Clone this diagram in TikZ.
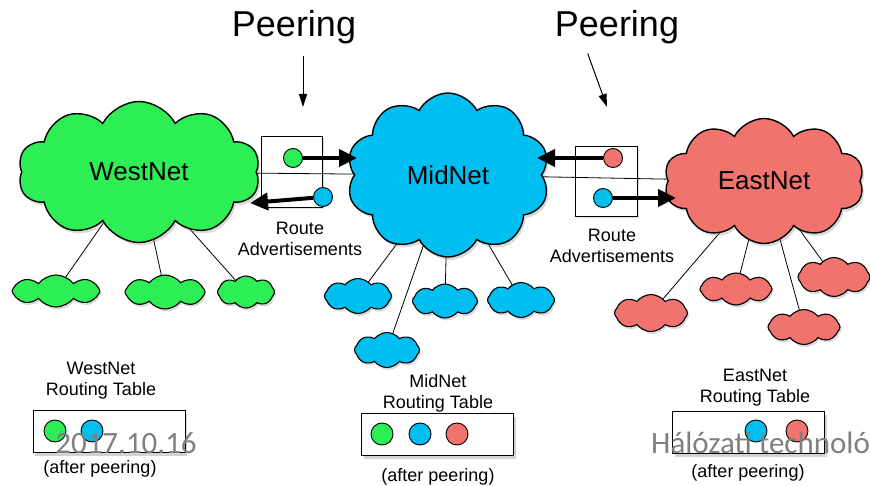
\documentclass[tikz,border=0pt]{standalone}
\usepackage{fontspec}
\setmainfont{Liberation Sans}
\newfontfamily\slidefont{Carlito}
\usepackage{tikz}
\usetikzlibrary{shapes.symbols, shadows, positioning, calc, arrows.meta, backgrounds}
\definecolor{netgreen}{RGB}{46,238,86}
\definecolor{netblue}{RGB}{0,190,240}
\definecolor{netred}{RGB}{240,115,110}

\begin{document}
\begin{tikzpicture}[x=1pt, y=-1pt,
	net/.style={cloud, cloud puffs=10, cloud puff arc=125, cloud ignores aspect, draw, line width=1.4pt, inner sep=0pt,
		drop shadow={opacity=0.3, shadow xshift=2pt, shadow yshift=-3pt}, font=\fontsize{26}{30}\selectfont},
	subnet/.style={cloud, cloud puffs=8, cloud puff arc=105, cloud ignores aspect, draw, line width=1.1pt, inner sep=0pt,
		drop shadow={opacity=0.3, shadow xshift=1.5pt, shadow yshift=-2.5pt}},
	dot/.style={circle, draw, line width=0.9pt, minimum size=19pt, inner sep=0pt},
	peerbox/.style={draw, line width=0.9pt, fill=white, drop shadow={opacity=0.25, shadow xshift=1.5pt, shadow yshift=-2pt}},
	tablebox/.style={draw, line width=1pt, fill=white, minimum width=152pt, minimum height=42pt,
		drop shadow={opacity=0.35, shadow xshift=2pt, shadow yshift=-4pt}},
	adv/.style={line width=4pt, -{Triangle[length=18pt, width=17pt]}},
	pointer/.style={line width=1pt, -{Triangle[length=13pt, width=8pt]}},
	small/.style={font=\fontsize{18}{21}\selectfont, align=center, inner sep=1pt},
	big/.style={font=\fontsize{36}{40}\selectfont, inner sep=2pt},
	slide/.style={font=\slidefont\fontsize{31}{34}\selectfont, text=black!50, inner sep=0pt}]
			\useasboundingbox (0,0) rectangle (870,486);
			
			\node [net, fill=netgreen, minimum width=242pt, minimum height=141pt] (west) at (139,172) {WestNet};
			\node [net, fill=netblue, minimum width=203pt, minimum height=164pt] (mid) at (448,175) {MidNet};
			\node [net, fill=netred, minimum width=200pt, minimum height=125pt] (east) at (764,181) {EastNet};
			
			\foreach \n/\x/\y/\w/\h/\c in {ws1/56/291/88/32/netgreen, ws2/165/292/80/34/netgreen, ws3/246/292/57/32/netgreen,
				ms1/358/296/67/35/netblue, ms2/445/301/65/34/netblue, ms3/521/300/67/35/netblue, ms4/387/350/65/35/netblue,
				es1/651/313/73/37/netred, es2/736/289/72/32/netred, es3/804/327/72/35/netred, es4/834/277/72/39/netred}
				\node [subnet, fill=\c, minimum width=\w pt, minimum height=\h pt] (\n) at (\x,\y) {};
			
			\begin{scope}[on background layer]
			\foreach \a/\b in {west/ws1, west/ws2, west/ws3, mid/ms1, mid/ms2, mid/ms3, mid/ms4, east/es1, east/es2, east/es3, east/es4}
				\draw [line width=0.8pt] (\a.center) -- (\b.center);
			\end{scope}
			
			\node [peerbox, minimum width=61pt, minimum height=71pt] (boxW) at (292,172) {};
			\node [peerbox, minimum width=62pt, minimum height=70pt] (boxE) at (606,181) {};
			\draw [line width=0.8pt] (west) -- (mid);
			\draw [line width=0.8pt] (mid) -- (east);
			
			\node [dot, fill=netgreen] (wg) at (293,158) {};
			\node [dot, fill=netblue] (wb) at (323,197) {};
			\node [dot, fill=netred] (er) at (613,158) {};
			\node [dot, fill=netblue] (eb) at (603,198) {};
			\coordinate (wgTip) at (357,158);
			\coordinate (wbTip) at (250,203);
			\coordinate (erTip) at (537,158);
			\coordinate (ebTip) at (676,198);
			\draw [adv] (wg) -- (wgTip);
			\draw [adv] (wb) -- (wbTip);
			\draw [adv] (er) -- (erTip);
			\draw [adv] (eb) -- (ebTip);
			
			\node [small] at (300,239) {Route\\Advertisements};
			\node [small] at (612,246) {Route\\Advertisements};
			
			\node [big] (peerL) at (294,27) {Peering};
			\node [big] (peerR) at (617,27) {Peering};
			\coordinate (tipL) at (303,107);
			\coordinate (tipR) at (607,107);
			\draw [pointer, shorten <=10pt] (peerL.south -| tipL) -- (tipL);
			\draw [pointer, shorten <=8pt] ([xshift=-32pt]peerR.south) -- (tipR);
			
			\node [tablebox] (wt) at (109,431) {};
			\node [tablebox] (mt) at (437.5,434) {};
			\node [tablebox] (et) at (748.5,432) {};
			\foreach \x/\y/\c in {55/431/netgreen, 92/431/netblue, 382/434/netgreen, 420/434/netblue, 457/434/netred, 756/431/netblue, 797/431/netred}
				\node [dot, minimum size=22pt, fill=\c] at (\x,\y) {};
			
			\node [small] at (101,381) {WestNet\\Routing Table};
			\node [small] at (438,393) {MidNet\\Routing Table};
			\node [small] at (755,388) {EastNet\\Routing Table};
			\foreach \x/\y in {100/469, 438/477, 748/473}
				\node [small] at (\x,\y) {(after peering)};
			
			\begin{scope}
			\clip (0,0) rectangle (870,486);
			\node [slide] at (126,443) {2017.10.16};
			\node [slide, anchor=west] at (651,443) {Hálózati technoló};
			\end{scope}
\end{tikzpicture}
\end{document}
